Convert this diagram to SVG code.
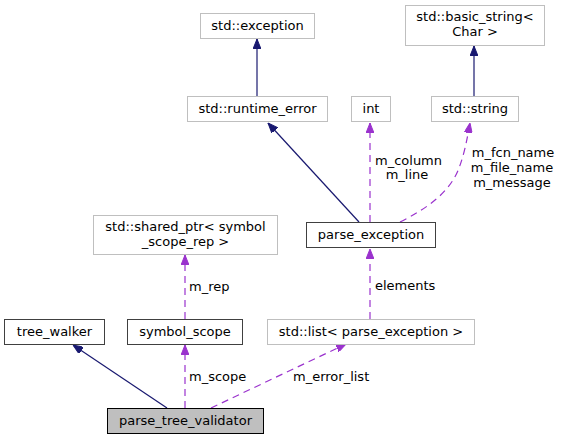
<svg xmlns="http://www.w3.org/2000/svg" width="563" height="440" viewBox="0 0 563 440">
<style>
text{font-family:"DejaVu Sans",sans-serif;font-size:13px;fill:#000}
.n text,.t{text-anchor:middle}
.g{fill:#fff;stroke:#bfbfbf}
.b{fill:#fff;stroke:#404040}
.h{fill:#bfbfbf;stroke:#000}
.inh{fill:none;stroke:#191970;stroke-width:1.2}
.use{fill:none;stroke:#9a32cd;stroke-width:1.2;stroke-dasharray:7,5}
</style>
<defs>
<marker id="ai" viewBox="0 0 10 8" refX="10" refY="4" markerWidth="10" markerHeight="8" markerUnits="userSpaceOnUse" orient="auto"><path d="M0,0L10,4L0,8Z" fill="#191970" stroke="#191970"/></marker>
<marker id="au" viewBox="0 0 10 8" refX="10" refY="4" markerWidth="10" markerHeight="8" markerUnits="userSpaceOnUse" orient="auto"><path d="M0,0L10,4L0,8Z" fill="#9a32cd" stroke="#9a32cd"/></marker>
</defs>
<rect width="563" height="440" fill="#fff"/>
<g id="edges">
<path class="inh" d="M257,96L257,39" marker-end="url(#ai)"/>
<path class="inh" d="M474,96L474,46" marker-end="url(#ai)"/>
<path class="inh" d="M359,222L268,123" marker-end="url(#ai)"/>
<path class="use" d="M370,222L370,123" marker-end="url(#au)"/>
<path class="use" d="M400,222C428,208 450,192 459,168C464,155 467,140 470,123" marker-end="url(#au)"/>
<path class="use" d="M370,319L370,249" marker-end="url(#au)"/>
<path class="use" d="M185,319L185,255" marker-end="url(#au)"/>
<path class="inh" d="M167,408L73,345" marker-end="url(#ai)"/>
<path class="use" d="M185,408L185,345" marker-end="url(#au)"/>
<path class="use" d="M211,408L346,344" marker-end="url(#au)"/>
<text x="375" y="165">m_column</text>
<text class="t" x="407" y="179">m_line</text>
<text class="t" x="513" y="157">m_fcn_name</text>
<text class="t" x="512" y="172">m_file_name</text>
<text class="t" x="512" y="187">m_message</text>
<text x="375" y="290">elements</text>
<text x="189" y="291">m_rep</text>
<text x="189" y="381">m_scope</text>
<text x="293" y="381">m_error_list</text>
</g>
<g id="n_exception" class="n"><rect class="g" x="200.5" y="13.5" width="114" height="25"/><text x="257.5" y="30">std::exception</text></g>
<g id="n_basic_string" class="n"><rect class="g" x="405.5" y="5.5" width="139" height="40"/><text x="475" y="21">std::basic_string&lt;</text><text x="475" y="36">Char &gt;</text></g>
<g id="n_runtime_error" class="n"><rect class="g" x="187.5" y="96.5" width="140" height="25"/><text x="257.5" y="113">std::runtime_error</text></g>
<g id="n_int" class="n"><rect class="g" x="351.5" y="96.5" width="39" height="25"/><text x="371" y="113">int</text></g>
<g id="n_string" class="n"><rect class="g" x="431.5" y="96.5" width="87" height="25"/><text x="475" y="113">std::string</text></g>
<g id="n_parse_exception" class="n"><rect class="b" x="306.5" y="222.5" width="129" height="25"/><text x="371" y="239">parse_exception</text></g>
<g id="n_shared_ptr" class="n"><rect class="g" x="93.5" y="215.5" width="184" height="39"/><text x="185.5" y="231">std::shared_ptr&lt; symbol</text><text x="185.5" y="246">_scope_rep &gt;</text></g>
<g id="n_tree_walker" class="n"><rect class="b" x="4.5" y="319.5" width="100" height="25"/><text x="54.5" y="336">tree_walker</text></g>
<g id="n_symbol_scope" class="n"><rect class="b" x="127.5" y="319.5" width="115" height="25"/><text x="185" y="336">symbol_scope</text></g>
<g id="n_list" class="n"><rect class="g" x="267.5" y="319.5" width="207" height="25"/><text x="371" y="336">std::list&lt; parse_exception &gt;</text></g>
<g id="n_validator" class="n"><rect class="h" x="107.5" y="408.5" width="156" height="25"/><text x="185.5" y="425">parse_tree_validator</text></g>
</svg>
